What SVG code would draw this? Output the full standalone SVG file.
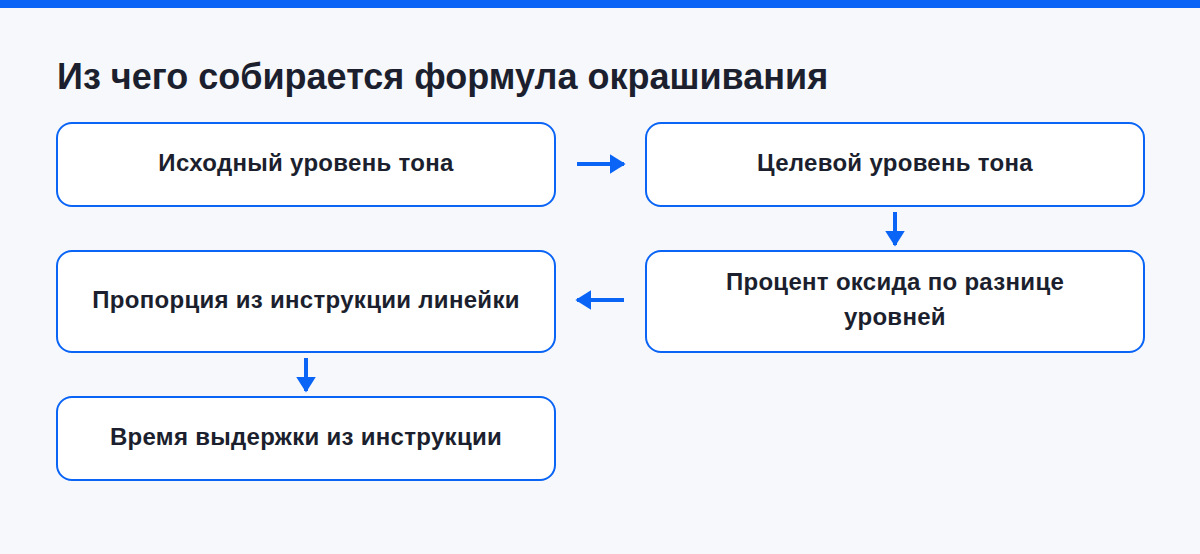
<svg xmlns="http://www.w3.org/2000/svg" width="1200" height="554" viewBox="0 0 1200 554">
<style>
.box{fill:#fff;stroke:#0a64f5;stroke-width:2}
.t{font-family:"Liberation Sans",Arial,sans-serif;font-weight:bold;font-size:24px;letter-spacing:0.3px;fill:#1c1f2e;text-anchor:middle}
.c{stroke:#0a64f5;stroke-width:4;fill:none}
</style>
<defs><marker id="a" markerWidth="4" markerHeight="5" refX="3.6" refY="2.5" orient="auto" markerUnits="strokeWidth"><path d="M0,0L4,2.5L0,5z" fill="#0a64f5"/></marker></defs>
<rect width="1200" height="554" fill="#f6f8fc"/>
<rect width="1200" height="8" fill="#0a64f5"/>
<text x="57" y="89" font-family="Liberation Sans,Arial,sans-serif" font-weight="bold" font-size="36" fill="#1c1f2e">Из чего собирается формула окрашивания</text>
<g id="n1"><rect class="box" x="57" y="123" width="498" height="83" rx="15"/><text class="t" x="306" y="171">Исходный уровень тона</text></g>
<g id="n2"><rect class="box" x="646" y="123" width="498" height="83" rx="15"/><text class="t" x="895" y="171">Целевой уровень тона</text></g>
<g id="n3"><rect class="box" x="646" y="251" width="498" height="101" rx="15"/><text class="t" x="895" y="290">Процент оксида по разнице</text><text class="t" x="895" y="325">уровней</text></g>
<g id="n4"><rect class="box" x="57" y="251" width="498" height="101" rx="15"/><text class="t" x="306" y="308">Пропорция из инструкции линейки</text></g>
<g id="n5"><rect class="box" x="57" y="397" width="498" height="83" rx="15"/><text class="t" x="306" y="445">Время выдержки из инструкции</text></g>
<g id="connectors">
<line class="c" x1="577" y1="164" x2="624" y2="164" marker-end="url(#a)"/>
<line class="c" x1="895" y1="212" x2="895" y2="245" marker-end="url(#a)"/>
<line class="c" x1="624" y1="300" x2="577" y2="300" marker-end="url(#a)"/>
<line class="c" x1="306" y1="358" x2="306" y2="391" marker-end="url(#a)"/>
</g>
</svg>
